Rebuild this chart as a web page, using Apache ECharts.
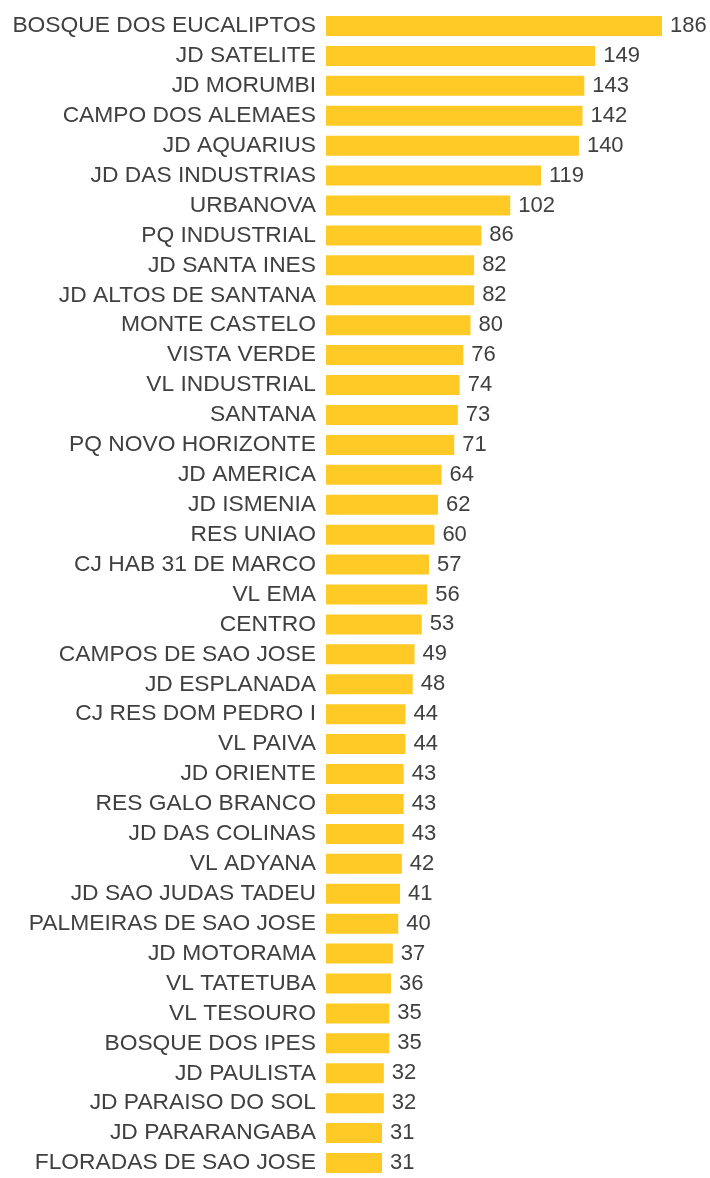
<!DOCTYPE html>
<html>
<head>
<meta charset="utf-8">
<style>
html,body{margin:0;padding:0;background:#fff;}
#chart{width:710px;height:1178px;}
</style>
<script src="https://cdn.jsdelivr.net/npm/echarts@6/dist/echarts.min.js"></script>
</head>
<body>
<div id="chart"></div>
<script>
const categories = [
  "BOSQUE DOS EUCALIPTOS","JD SATELITE","JD MORUMBI","CAMPO DOS ALEMAES","JD AQUARIUS",
  "JD DAS INDUSTRIAS","URBANOVA","PQ INDUSTRIAL","JD SANTA INES","JD ALTOS DE SANTANA",
  "MONTE CASTELO","VISTA VERDE","VL INDUSTRIAL","SANTANA","PQ NOVO HORIZONTE",
  "JD AMERICA","JD ISMENIA","RES UNIAO","CJ HAB 31 DE MARCO","VL EMA",
  "CENTRO","CAMPOS DE SAO JOSE","JD ESPLANADA","CJ RES DOM PEDRO I","VL PAIVA",
  "JD ORIENTE","RES GALO BRANCO","JD DAS COLINAS","VL ADYANA","JD SAO JUDAS TADEU",
  "PALMEIRAS DE SAO JOSE","JD MOTORAMA","VL TATETUBA","VL TESOURO","BOSQUE DOS IPES",
  "JD PAULISTA","JD PARAISO DO SOL","JD PARARANGABA","FLORADAS DE SAO JOSE"
];
const values = [
  186,149,143,142,140,
  119,102,86,82,82,
  80,76,74,73,71,
  64,62,60,57,56,
  53,49,48,44,44,
  43,43,43,42,41,
  40,37,36,35,35,
  32,32,31,31
];

const chart = echarts.init(document.getElementById('chart'), null, {renderer:'canvas'});
const font = "'Liberation Sans', Arial, sans-serif";
chart.setOption({
  animation: false,
  backgroundColor: '#ffffff',
  grid: { left: 326, top: 11, width: 336, height: 1171.6, containLabel: false },
  xAxis: {
    type: 'value', min: 0, max: 186,
    show: false
  },
  yAxis: {
    type: 'category', inverse: true, data: categories,
    axisLine: { show: false }, axisTick: { show: false },
    axisLabel: { color: '#404040', fontFamily: font, fontSize: 22.8, margin: 10, padding: [4, 0, 0, 0] }
  },
  series: [{
    type: 'bar', data: values, barWidth: 20,
    itemStyle: { color: '#FFC926' },
    label: { show: true, position: 'right', distance: 8, color: '#404040', fontFamily: font, fontSize: 22, padding: [4, 0, 0, 0] }
  }]
});
</script>
</body>
</html>
